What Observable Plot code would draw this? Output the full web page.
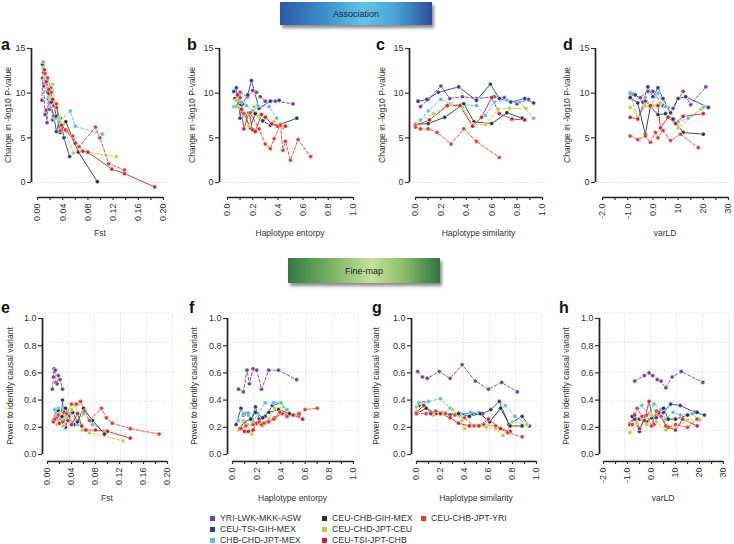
<!DOCTYPE html>
<html><head><meta charset="utf-8">
<script src="https://cdn.jsdelivr.net/npm/d3@7"></script>
<script src="https://cdn.jsdelivr.net/npm/@observablehq/plot@0.6"></script>
<style>
body{margin:0;background:#fff;}
#root{position:relative;width:734px;height:544px;overflow:hidden;font-family:"Liberation Sans",Arial,sans-serif;color:#333;background:#fff;}
.lbl{position:absolute;white-space:nowrap;font-size:8.5px;color:#333;transform:translate(-50%,-50%);}
.ylab{position:absolute;white-space:nowrap;font-size:8.5px;color:#333;transform:translate(-50%,-50%) rotate(-90deg);}
.letter{position:absolute;font-weight:bold;font-size:16px;color:#111;line-height:1;}
.banner{position:absolute;display:flex;align-items:center;justify-content:center;font-size:9px;color:#15243a;box-shadow:2px 3px 3px rgba(0,0,0,0.45);}
.leg{position:absolute;font-size:8.8px;color:#333;white-space:nowrap;line-height:1;}
.leg span.sw{display:inline-block;width:5px;height:5px;margin-right:5px;vertical-align:0px;}
</style>
</head><body>
<div id="root"></div>
<script>
// ---------- series ----------
const series = ["YRI-LWK-MKK-ASW","CEU-TSI-GIH-MEX","CHB-CHD-JPT-MEX","CEU-CHB-GIH-MEX","CEU-CHD-JPT-CEU","CEU-TSI-JPT-CHB","CEU-CHB-JPT-YRI"];
const seriesColors = ["#7d3f98","#2b3d96","#5cbde0","#233a38","#b9d435","#d0232b","#e4402e"];
const seriesDash = ["3,2",null,"3,2",null,"3,2",null,"3,2"];

// ---------- tick values / labels ----------
const fstTicks = [0,0.02,0.04,0.06,0.08,0.10,0.12,0.14,0.16,0.18,0.20];
const unitTicks = [0,0.1,0.2,0.3,0.4,0.5,0.6,0.7,0.8,0.9,1.0];
const varldTicks = [-20,-15,-10,-5,0,5,10,15,20,25,30];
const varldTickLabels = ["-2.0","","-1.0","","0.0","","10","","20","","30"];
const assocYTicks = [0,5,10,15];
const powerYTicks = [0,0.2,0.4,0.6,0.8,1.0];

// ---------- data: [x, y] per series, in the order of `series` ----------
const assocFst = [
 [[0.007,9.2],[0.008,11.7],[0.010,10.8],[0.012,7.6],[0.014,8.1],[0.015,6.7],[0.017,9.4],[0.019,8.2],[0.021,10.6],[0.024,7.0]],
 [[0.008,13.2],[0.010,12.4],[0.013,11.2],[0.016,10.2],[0.020,9.0],[0.026,7.4],[0.030,5.7],[0.036,7.2],[0.042,5.0],[0.051,2.9]],
 [[0.009,13.5],[0.012,12.0],[0.015,10.5],[0.018,9.6],[0.022,8.5],[0.028,7.2],[0.034,6.8],[0.052,8.0],[0.060,6.3],[0.103,5.4]],
 [[0.010,12.3],[0.014,11.4],[0.018,10.0],[0.022,9.0],[0.026,8.6],[0.030,7.4],[0.036,5.6],[0.045,6.8],[0.065,3.4],[0.095,0.1]],
 [[0.009,12.8],[0.012,11.6],[0.016,10.6],[0.020,9.4],[0.024,11.0],[0.028,8.4],[0.034,7.2],[0.040,6.5],[0.057,3.3],[0.070,3.5],[0.125,2.9]],
 [[0.011,12.6],[0.014,11.3],[0.018,10.4],[0.024,9.3],[0.030,8.4],[0.038,6.4],[0.046,5.8],[0.060,4.4],[0.072,3.5],[0.080,3.4],[0.118,1.5],[0.138,1.0],[0.186,-0.5]],
 [[0.012,12.2],[0.016,11.7],[0.022,10.1],[0.026,8.6],[0.030,8.8],[0.036,5.8],[0.044,5.9],[0.056,5.2],[0.066,4.0],[0.092,6.2],[0.099,5.0],[0.113,2.1],[0.138,1.4]]
];
const assocEntropy = [
 [[0.10,10.1],[0.16,9.6],[0.20,10.3],[0.23,10.1],[0.26,9.6],[0.30,9.1],[0.38,9.1],[0.52,8.8]],
 [[0.05,10.2],[0.07,10.6],[0.08,8.6],[0.09,9.8],[0.10,7.2],[0.12,8.8],[0.16,9.8],[0.19,11.4],[0.25,8.3],[0.34,9.1],[0.41,9.2]],
 [[0.05,8.5],[0.07,8.5],[0.11,9.0],[0.15,8.6],[0.20,8.0],[0.24,8.6],[0.33,8.5],[0.39,7.2]],
 [[0.06,9.4],[0.10,8.6],[0.14,7.5],[0.18,6.1],[0.22,7.7],[0.28,6.9],[0.34,6.4],[0.42,6.5],[0.55,7.2]],
 [[0.07,9.2],[0.09,8.4],[0.13,7.6],[0.17,6.3],[0.21,8.5],[0.25,7.4],[0.30,7.4],[0.37,6.8],[0.44,6.1]],
 [[0.08,9.8],[0.11,8.2],[0.13,6.0],[0.17,7.8],[0.20,5.9],[0.22,5.7],[0.27,7.6],[0.30,7.3],[0.35,6.6],[0.40,6.3],[0.46,6.3]],
 [[0.10,9.5],[0.13,7.7],[0.18,7.8],[0.25,6.0],[0.30,4.3],[0.34,3.8],[0.37,4.9],[0.42,6.4],[0.44,3.6],[0.46,4.6],[0.50,2.5],[0.56,4.8],[0.66,2.9]]
];
const assocSimilarity = [
 [[0.04,8.5],[0.10,9.3],[0.20,10.8],[0.27,9.4],[0.37,9.6],[0.48,9.4],[0.62,9.6],[0.70,9.5],[0.80,8.8],[0.89,9.3]],
 [[0.02,9.1],[0.09,9.3],[0.18,10.1],[0.34,10.7],[0.48,9.2],[0.59,11.0],[0.66,9.4],[0.75,9.0],[0.86,9.4],[0.93,8.9]],
 [[0.04,7.0],[0.10,8.0],[0.20,9.3],[0.28,8.8],[0.36,8.7],[0.48,8.6],[0.55,7.5],[0.62,9.0],[0.72,9.2],[0.82,9.0],[0.93,7.2]],
 [[0.00,6.5],[0.10,6.6],[0.23,7.3],[0.38,8.8],[0.46,6.8],[0.60,6.6],[0.72,7.8],[0.84,7.2]],
 [[0.00,6.6],[0.14,7.7],[0.27,8.8],[0.37,8.4],[0.45,6.5],[0.55,6.5],[0.65,8.2],[0.74,8.3],[0.87,8.3]],
 [[0.00,6.4],[0.11,7.0],[0.25,8.6],[0.35,8.6],[0.45,6.3],[0.52,7.3],[0.60,9.5],[0.66,7.7],[0.76,7.1],[0.86,7.0]],
 [[0.00,6.2],[0.04,6.0],[0.10,6.0],[0.17,5.6],[0.28,4.3],[0.38,6.0],[0.48,4.6],[0.66,2.8]]
];
const assocVarLD = [
 [[-8,9.9],[-5,9.5],[-2,10.2],[0,10.2],[4,8.6],[8,8.3],[12,10.2],[15,8.7],[21,10.7]],
 [[-9,10.0],[-7,9.8],[-4,9.0],[-2,10.7],[0,9.6],[2,10.6],[4,9.4],[7,7.8],[10,9.4],[13,9.6],[22,8.4]],
 [[-9,9.9],[-6,7.2],[-3,9.5],[-1,8.6],[2,10.0],[5,8.5],[10,6.8],[14,7.2],[20,8.4]],
 [[-9,9.5],[-6,8.9],[-3,5.4],[-1,8.5],[2,7.6],[5,7.7],[8,7.1],[12,5.6],[20,5.4]],
 [[-9,8.4],[-6,7.3],[-3,8.6],[0,8.6],[3,8.9],[6,7.4],[10,6.1],[19,8.2]],
 [[-9,7.3],[-6,7.1],[-3,9.1],[-1,8.6],[2,8.6],[3,6.1],[6,7.3],[9,6.6],[12,7.4],[20,7.7]],
 [[-9,5.2],[-6,4.8],[-3,5.2],[-1,4.5],[1,5.6],[2,5.0],[4,5.8],[7,4.7],[11,5.4],[18,3.9]]
];
const finemapFst = [
 [[0.008,0.48],[0.010,0.57],[0.011,0.63],[0.012,0.61],[0.013,0.62],[0.014,0.53],[0.016,0.52],[0.018,0.58],[0.021,0.55],[0.025,0.48]],
 [[0.010,0.25],[0.013,0.33],[0.016,0.30],[0.018,0.28],[0.020,0.31],[0.022,0.26],[0.025,0.40],[0.027,0.28],[0.030,0.20],[0.035,0.27],[0.045,0.22]],
 [[0.012,0.33],[0.015,0.30],[0.018,0.34],[0.022,0.26],[0.026,0.35],[0.030,0.28],[0.038,0.30],[0.050,0.22],[0.060,0.30],[0.075,0.22],[0.100,0.17]],
 [[0.014,0.27],[0.018,0.32],[0.024,0.28],[0.030,0.34],[0.035,0.28],[0.042,0.31],[0.050,0.24],[0.060,0.34],[0.075,0.25],[0.095,0.15]],
 [[0.012,0.26],[0.016,0.22],[0.020,0.30],[0.026,0.21],[0.032,0.27],[0.040,0.33],[0.046,0.36],[0.058,0.18],[0.070,0.16],[0.126,0.10]],
 [[0.010,0.24],[0.015,0.27],[0.020,0.23],[0.028,0.31],[0.034,0.25],[0.040,0.22],[0.050,0.30],[0.057,0.21],[0.064,0.18],[0.080,0.18],[0.100,0.17],[0.138,0.12]],
 [[0.012,0.26],[0.018,0.29],[0.025,0.24],[0.032,0.30],[0.040,0.37],[0.048,0.37],[0.055,0.39],[0.062,0.32],[0.070,0.25],[0.090,0.34],[0.098,0.27],[0.108,0.23],[0.138,0.19],[0.186,0.15]]
];
const finemapEntropy = [
 [[0.05,0.48],[0.09,0.46],[0.12,0.62],[0.14,0.52],[0.17,0.63],[0.20,0.62],[0.24,0.48],[0.30,0.62],[0.38,0.62],[0.53,0.55]],
 [[0.03,0.22],[0.07,0.34],[0.09,0.29],[0.11,0.30],[0.13,0.30],[0.16,0.26],[0.19,0.35],[0.22,0.26],[0.27,0.28],[0.33,0.36],[0.40,0.38]],
 [[0.05,0.25],[0.09,0.30],[0.13,0.29],[0.17,0.24],[0.21,0.30],[0.27,0.38],[0.34,0.38],[0.40,0.38],[0.45,0.33]],
 [[0.06,0.19],[0.10,0.24],[0.15,0.26],[0.19,0.31],[0.25,0.27],[0.30,0.31],[0.38,0.33],[0.47,0.30],[0.55,0.29]],
 [[0.05,0.18],[0.09,0.25],[0.12,0.22],[0.16,0.15],[0.20,0.22],[0.25,0.21],[0.30,0.26],[0.35,0.34],[0.42,0.35]],
 [[0.06,0.19],[0.10,0.17],[0.13,0.17],[0.17,0.18],[0.20,0.23],[0.24,0.22],[0.29,0.24],[0.35,0.27],[0.41,0.30],[0.50,0.29],[0.58,0.26]],
 [[0.07,0.19],[0.11,0.21],[0.17,0.22],[0.22,0.24],[0.26,0.23],[0.30,0.24],[0.34,0.26],[0.39,0.31],[0.45,0.28],[0.55,0.30],[0.60,0.33],[0.70,0.34]]
];
const finemapSimilarity = [
 [[0.01,0.61],[0.05,0.57],[0.09,0.56],[0.19,0.61],[0.28,0.56],[0.38,0.66],[0.49,0.54],[0.60,0.48],[0.71,0.53],[0.84,0.46]],
 [[0.02,0.36],[0.06,0.38],[0.12,0.31],[0.20,0.30],[0.28,0.29],[0.36,0.30],[0.46,0.30],[0.55,0.30],[0.62,0.33],[0.69,0.39],[0.77,0.22],[0.88,0.28],[0.94,0.21]],
 [[0.02,0.38],[0.10,0.39],[0.20,0.41],[0.28,0.34],[0.36,0.29],[0.45,0.31],[0.52,0.31],[0.60,0.24],[0.74,0.36],[0.82,0.28],[0.92,0.22]],
 [[0.00,0.30],[0.08,0.34],[0.16,0.30],[0.24,0.30],[0.35,0.30],[0.44,0.28],[0.53,0.30],[0.61,0.24],[0.70,0.34],[0.78,0.21],[0.88,0.21]],
 [[0.00,0.35],[0.06,0.37],[0.14,0.29],[0.22,0.31],[0.30,0.33],[0.38,0.25],[0.40,0.19],[0.50,0.21],[0.58,0.20],[0.66,0.19],[0.72,0.14],[0.80,0.24],[0.92,0.22]],
 [[0.00,0.31],[0.06,0.36],[0.12,0.30],[0.20,0.30],[0.28,0.27],[0.35,0.23],[0.44,0.21],[0.52,0.21],[0.60,0.26],[0.70,0.19],[0.78,0.17]],
 [[0.00,0.30],[0.08,0.30],[0.16,0.32],[0.24,0.30],[0.32,0.29],[0.40,0.27],[0.48,0.21],[0.56,0.22],[0.66,0.21],[0.76,0.16],[0.88,0.13]]
];
const finemapVarLD = [
 [[-7,0.54],[-3,0.58],[-1,0.60],[0.5,0.58],[2.4,0.55],[4,0.54],[6,0.49],[8.6,0.57],[12.4,0.61],[21.4,0.53]],
 [[-9,0.23],[-7,0.26],[-5,0.17],[-3,0.28],[-1,0.30],[2,0.27],[5,0.31],[8,0.37],[12,0.36],[18,0.31],[22,0.29]],
 [[-9,0.23],[-7,0.30],[-4,0.36],[-1,0.30],[1,0.37],[4,0.33],[6,0.26],[9,0.31],[12,0.29],[17,0.30],[20,0.25]],
 [[-8,0.28],[-5,0.26],[-2,0.24],[0,0.27],[3,0.30],[5,0.34],[7,0.26],[10,0.26],[15,0.29],[19,0.31]],
 [[-9,0.16],[-6,0.23],[-4,0.27],[-2,0.22],[0,0.29],[2,0.24],[6,0.18],[10,0.21],[15,0.25],[20,0.26]],
 [[-9,0.22],[-7,0.29],[-5,0.19],[-3,0.25],[-1,0.39],[1,0.22],[3,0.31],[6,0.21],[10,0.18],[13,0.26],[19,0.21]],
 [[-8,0.22],[-6,0.34],[-4,0.28],[-2,0.29],[0,0.21],[2,0.32],[4,0.28],[7,0.20],[10,0.22],[15,0.20],[19,0.26]]
];

// ---------- layout (pixels) ----------
const W = 734, H = 544;
const fmt2 = d3.format(".2f"), fmt1 = d3.format(".1f");
const fstFmt = (d,i) => i % 2 ? "" : fmt2(d);
const unitFmt = (d,i) => i % 2 ? "" : fmt1(d);
const varldFmt = (d,i) => varldTickLabels[i];
const topRow = {yDomain:[0,15], yPx:[182,48], xAxisPx:197, yTicks:assocYTicks, yFmt:d3.format("d"), grid:false,
  ylab:"Change in -log10 P-value", titleY:233, letterY:37};
const botRow = {yDomain:[0,1], yPx:[454,318], xAxisPx:461, yTicks:powerYTicks, yFmt:fmt1, grid:true,
  ylab:"Power to identify causal variant", titleY:498, letterY:300};
const panels = [
  {row:topRow, letter:"a", data:assocFst, xDomain:[0,0.2], xPx:[37,163], yAxisPx:31, ticks:fstTicks, tf:fstFmt, title:"Fst", letterX:1, ylabX:8},
  {row:topRow, letter:"b", data:assocEntropy, xDomain:[0,1], xPx:[227,353], yAxisPx:219, ticks:unitTicks, tf:unitFmt, title:"Haplotype entorpy", letterX:187, ylabX:192},
  {row:topRow, letter:"c", data:assocSimilarity, xDomain:[0,1], xPx:[415,542], yAxisPx:409, ticks:unitTicks, tf:unitFmt, title:"Haplotype similarity", letterX:376, ylabX:382},
  {row:topRow, letter:"d", data:assocVarLD, xDomain:[-20,30], xPx:[602,728], yAxisPx:595, ticks:varldTicks, tf:varldFmt, title:"varLD", letterX:563, ylabX:567},
  {row:botRow, letter:"e", data:finemapFst, xDomain:[0,0.2], xPx:[47,167], yAxisPx:42, ticks:fstTicks, tf:fstFmt, title:"Fst", letterX:1, ylabX:10},
  {row:botRow, letter:"f", data:finemapEntropy, xDomain:[0,1], xPx:[232,353], yAxisPx:227, ticks:unitTicks, tf:unitFmt, title:"Haplotype entorpy", letterX:189, ylabX:194},
  {row:botRow, letter:"g", data:finemapSimilarity, xDomain:[0,1], xPx:[416,536], yAxisPx:411, ticks:unitTicks, tf:unitFmt, title:"Haplotype similarity", letterX:372, ylabX:376},
  {row:botRow, letter:"h", data:finemapVarLD, xDomain:[-20,30], xPx:[603,723], yAxisPx:599, ticks:varldTicks, tf:varldFmt, title:"varLD", letterX:559, ylabX:566}
];

const root = document.getElementById("root");
function addDiv(cls, text, css) {
  const d = document.createElement("div");
  d.className = cls; d.textContent = text;
  Object.assign(d.style, css);
  root.appendChild(d);
  return d;
}

// banners
addDiv("banner","Association",{left:"280px",top:"2px",width:"152px",height:"23px",
  background:"linear-gradient(90deg,#2c58a6 0%,#3f8fcc 30%,#62c3e6 55%,#4aa6d8 75%,#2a4f9c 100%)"});
addDiv("banner","Fine-map",{left:"288px",top:"258px",width:"152px",height:"25px",
  background:"linear-gradient(90deg,#2f7a3e 0%,#7fb567 30%,#c6e29a 55%,#8fc06d 75%,#2f7440 100%)"});

for (const p of panels) {
  const r = p.row;
  const [x0, x1] = p.xPx, [yb, yt] = r.yPx;
  const rows = [];
  p.data.forEach((pts, si) => pts.forEach(([x, y], k) => rows.push({s: series[si], si, k, x, y})));
  const marks = [];
  const xr = p.xDomain[1] - p.xDomain[0], yr = r.yDomain[1] - r.yDomain[0];
  const xlo = p.xDomain[0] - 0.04 * xr, xhi = p.xDomain[1] + 0.04 * xr;
  const ylo = r.yDomain[0] - 0.04 * yr, yhi = r.yDomain[1] + 0.04 * yr;
  const gridStyle = {stroke: "#c8c8c8", strokeWidth: 0.8, strokeDasharray: "1,2"};
  if (r.grid) {
    const gx = d3.range(6).map(k => xlo + k * (xhi - xlo) / 5);
    const gy = d3.range(6).map(k => ylo + k * (yhi - ylo) / 5);
    marks.push(Plot.ruleX(gx, {y1: ylo, y2: yhi, ...gridStyle}));
    marks.push(Plot.ruleY(gy, {x1: xlo, x2: xhi, ...gridStyle}));
  } else {
    marks.push(Plot.ruleY([0], {x1: xlo, x2: xhi, ...gridStyle}));
  }
  // axis lines (R style, detached)
  marks.push(Plot.ruleX([p.xDomain[0]], {y1: r.yTicks[0], y2: r.yTicks[r.yTicks.length-1], dx: p.yAxisPx - x0, stroke: "#222", strokeWidth: 1.7}));
  marks.push(Plot.ruleY([r.yDomain[0]], {x1: p.ticks[0], x2: p.ticks[p.ticks.length-1], dy: r.xAxisPx - yb, stroke: "#222", strokeWidth: 1.5}));
  marks.push(Plot.axisY({anchor: "left", ticks: r.yTicks, tickFormat: r.yFmt, tickSize: 4, tickPadding: 2, dx: p.yAxisPx - x0, label: null, fontSize: 9, color: "#333", strokeWidth: 1.2}));
  marks.push(Plot.axisX({anchor: "bottom", ticks: p.ticks, tickFormat: p.tf, tickSize: 3, tickPadding: 3, tickRotate: -90, dy: r.xAxisPx - yb, label: null, fontSize: 9, color: "#333", strokeWidth: 1.2}));
  // series lines and points
  series.forEach((s, si) => {
    const opts = {x: "x", y: "y", stroke: seriesColors[si], strokeWidth: 0.9};
    if (seriesDash[si]) opts.strokeDasharray = seriesDash[si];
    marks.push(Plot.line(rows.filter(d => d.si === si), opts));
  });
  marks.push(Plot.dot(rows, {x: "x", y: "y", fill: "s", r: 2.1, stroke: "white", strokeWidth: 0.5}));

  const svg = Plot.plot({
    width: W, height: H,
    marginLeft: x0, marginRight: W - x1, marginTop: yt, marginBottom: H - yb,
    x: {domain: p.xDomain},
    y: {domain: r.yDomain},
    color: {domain: series, range: seriesColors},
    style: {position: "absolute", left: "0px", top: "0px", background: "none", overflow: "visible", fontFamily: "'Liberation Sans', Arial, sans-serif", fontSize: "9px", maxWidth: "none"},
    marks
  });
  root.appendChild(svg);

  addDiv("letter", p.letter, {left: p.letterX + "px", top: r.letterY + "px"});
  addDiv("ylab", r.ylab, {left: p.ylabX + "px", top: ((yb + yt) / 2) + "px"});
  addDiv("lbl", p.title, {left: ((x0 + x1) / 2) + "px", top: r.titleY + "px"});
}

// legend (3 columns, column-major)
const legCols = [210, 322, 421], legRows = [514, 525, 536];
series.forEach((s, i) => {
  const col = Math.floor(i / 3), row = i % 3;
  const d = document.createElement("div");
  d.className = "leg";
  d.style.left = legCols[col] + "px"; d.style.top = legRows[row] + "px";
  const sw = document.createElement("span"); sw.className = "sw"; sw.style.background = seriesColors[i];
  d.appendChild(sw); d.appendChild(document.createTextNode(s));
  root.appendChild(d);
});
</script>
</body></html>
